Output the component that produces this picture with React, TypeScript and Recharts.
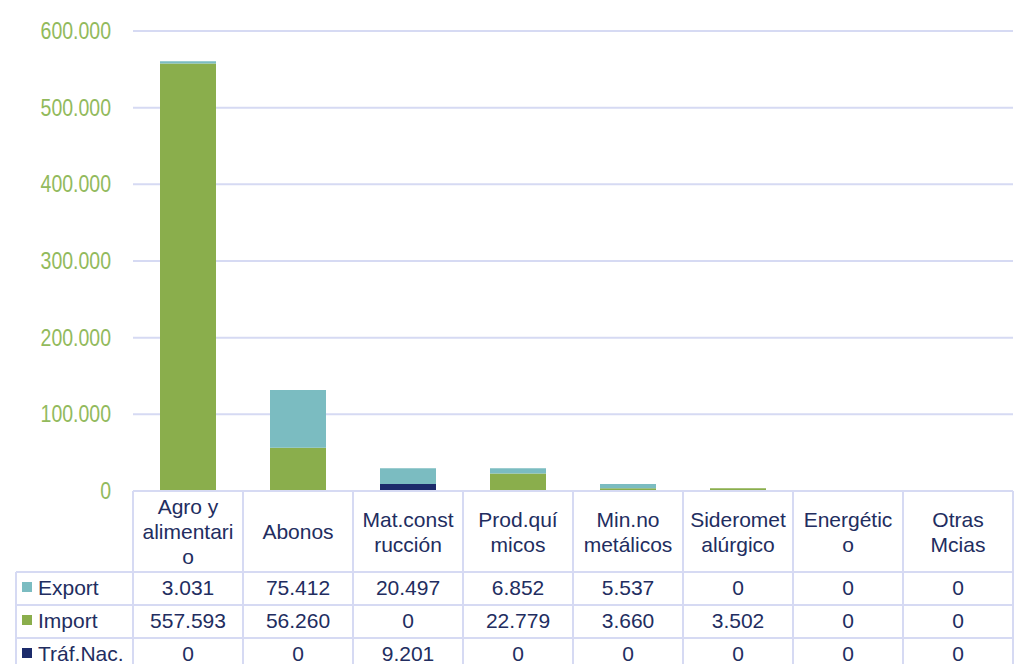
import React from 'react';
import { BarChart, Bar, XAxis, YAxis, CartesianGrid } from 'recharts';

// categories, with the line breaks used in the table header
const categories = [
  'Agro y alimentario',
  'Abonos',
  'Mat.construcción',
  'Prod.químicos',
  'Min.no metálicos',
  'Siderometalúrgico',
  'Energético',
  'Otras Mcias',
];
const headerLines = [
  ['Agro y', 'alimentari', 'o'],
  ['Abonos'],
  ['Mat.const', 'rucción'],
  ['Prod.quí', 'micos'],
  ['Min.no', 'metálicos'],
  ['Sideromet', 'alúrgico'],
  ['Energétic', 'o'],
  ['Otras', 'Mcias'],
];

const exportValues = [3031, 75412, 20497, 6852, 5537, 0, 0, 0];
const importValues = [557593, 56260, 0, 22779, 3660, 3502, 0, 0];
const trafNacValues = [0, 0, 9201, 0, 0, 0, 0, 0];

const yTicks = [0, 100000, 200000, 300000, 400000, 500000, 600000];

const series = [
  { key: 'export', name: 'Export', color: '#7BBCC1', values: exportValues },
  { key: 'import', name: 'Import', color: '#8AAE4C', values: importValues },
  { key: 'traf', name: 'Tráf.Nac.', color: '#1C2B6B', values: trafNacValues },
];

const data = categories.map((name, i) => ({
  name,
  export: exportValues[i],
  import: importValues[i],
  traf: trafNacValues[i],
}));

const fmt = (v: number) => String(v).replace(/\B(?=(\d{3})+(?!\d))/g, '.');

const W = 1024;
const H = 664;
const PLOT_LEFT = 133;
const PLOT_RIGHT = 1013;
const CELL = (PLOT_RIGHT - PLOT_LEFT) / categories.length;
const HEADER_H = 81;
const ROW_H = 33;
const LEGEND_LEFT = 16;
const GRID = '#D6DAF3';
const TEXT = '#222D60';
const FONT = '"Liberation Sans", Arial, sans-serif';

// y tick labels are a narrow font in the original, squeeze Liberation Sans
const YTick = (props: any) => {
  const { x, y, payload } = props;
  return (
    <text
      transform={`translate(${x},${y}) scale(0.83,1)`}
      textAnchor="end"
      dominantBaseline="central"
      fontFamily={FONT}
      fontSize={23.5}
      fill="#92BA5C"
    >
      {fmt(payload.value)}
    </text>
  );
};

const TableTick = (props: any) => {
  const { x, y, index } = props;
  const half = CELL / 2;
  const lines = headerLines[index];
  const top = y;
  const rowTop = top + HEADER_H;
  const bottom = rowTop + ROW_H * 3 + 10;
  const lh = 25;
  const cy = top + HEADER_H / 2;
  const rowMid = (r: number) => rowTop + r * ROW_H + ROW_H / 2 - 1.5;
  return (
    <g fontFamily={FONT} fontSize={21} fill={TEXT}>
      <line x1={x - half} x2={x - half} y1={top} y2={bottom} stroke={GRID} strokeWidth={2} />
      <line x1={x + half} x2={x + half} y1={top} y2={bottom} stroke={GRID} strokeWidth={2} />
      {[0, 1, 2].map((r) => (
        <line key={r} x1={x - half} x2={x + half} y1={rowTop + r * ROW_H} y2={rowTop + r * ROW_H} stroke={GRID} strokeWidth={2} />
      ))}
      {lines.map((t, j) => (
        <text key={j} x={x} y={cy + (j - (lines.length - 1) / 2) * lh} textAnchor="middle" dominantBaseline="central">
          {t}
        </text>
      ))}
      {series.map((s, r) => (
        <text key={s.key} x={x} y={rowMid(r)} textAnchor="middle" dominantBaseline="central">
          {fmt(s.values[index])}
        </text>
      ))}
      {index === 0 && (
        <g>
          <line x1={LEGEND_LEFT} x2={LEGEND_LEFT} y1={rowTop} y2={bottom} stroke={GRID} strokeWidth={2} />
          {[0, 1, 2].map((r) => (
            <line key={r} x1={LEGEND_LEFT} x2={x - half} y1={rowTop + r * ROW_H} y2={rowTop + r * ROW_H} stroke={GRID} strokeWidth={2} />
          ))}
          {series.map((s, r) => (
            <g key={s.key}>
              <rect x={22} y={rowMid(r) - 5} width={10} height={10} fill={s.color} />
              <text x={38} y={rowMid(r)} dominantBaseline="central">
                {s.name}
              </text>
            </g>
          ))}
        </g>
      )}
    </g>
  );
};

const App: React.FC = () => {
  return (
    <div style={{ width: W, height: H, background: '#fff' }}>
      <style>{'body { margin: 0; }'}</style>
      <BarChart width={W} height={H} data={data} margin={{ top: 31, right: W - PLOT_RIGHT, bottom: 0, left: 0 }}>
        <CartesianGrid vertical={false} stroke={GRID} strokeWidth={2} />
        <XAxis
          dataKey="name"
          interval={0}
          height={173}
          tickLine={false}
          tickSize={0}
          tickMargin={0}
          axisLine={{ stroke: GRID, strokeWidth: 2 }}
          tick={<TableTick />}
        />
        <YAxis
          width={PLOT_LEFT}
          domain={[0, 600000]}
          ticks={yTicks}
          axisLine={false}
          tickLine={false}
          tickSize={0}
          tickMargin={22}
          tick={<YTick />}
        />
        <Bar dataKey="traf" stackId="a" fill="#1C2B6B" barSize={56} isAnimationActive={false} />
        <Bar dataKey="import" stackId="a" fill="#8AAE4C" barSize={56} isAnimationActive={false} />
        <Bar dataKey="export" stackId="a" fill="#7BBCC1" barSize={56} isAnimationActive={false} />
      </BarChart>
    </div>
  );
};

export default App;
